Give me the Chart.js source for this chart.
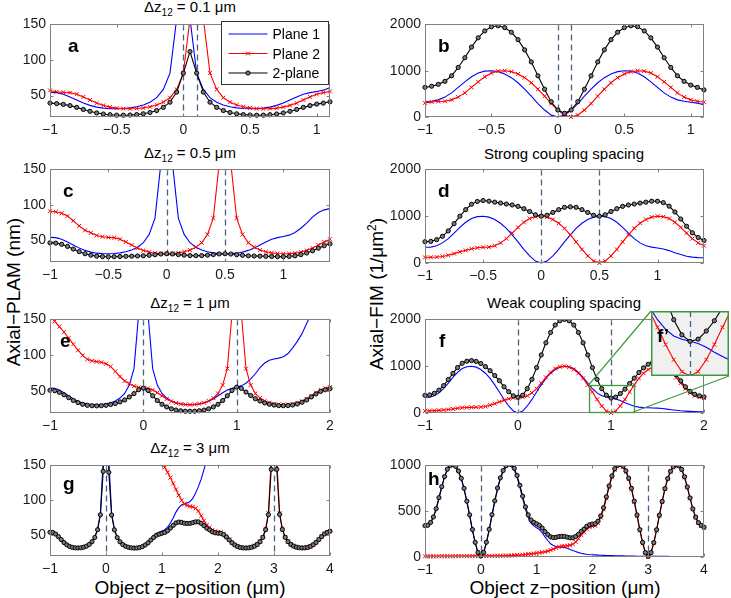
<!DOCTYPE html>
<html lang="en">
<head>
  <meta charset="UTF-8">
  <title>Axial PLAM and FIM versus object z-position</title>
  <script src="https://cdn.jsdelivr.net/npm/chart.js"></script>
  <style>
    body {
      margin: 0;
      background: #fff;
      font-family: 'Liberation Sans', Arial, Helvetica, sans-serif;
      color: #000;
    }
    #fig {
      position: relative;
      width: 731px;
      height: 598px;
      overflow: hidden;
    }
    #fig canvas { position: absolute; }
    .ttl {
      position: absolute;
      transform: translateX(-50%);
      font-size: 15px;
      line-height: 16px;
      white-space: nowrap;
    }
    .ttl sub { font-size: 10px; line-height: 0; vertical-align: -4px; }
    .xlab {
      position: absolute;
      transform: translateX(-50%);
      font-size: 19px;
      line-height: 22px;
      white-space: nowrap;
    }
    .ylab {
      position: absolute;
      transform: translate(-50%, -50%) rotate(-90deg);
      font-size: 19px;
      line-height: 22px;
      white-space: nowrap;
    }
    .ylab sup { font-size: 12px; line-height: 0; vertical-align: 7px; }
  </style>
</head>
<body>
  <div id="fig">
    <div class="ttl" style="left:190px;top:-1px">&Delta;z<sub>12</sub> = 0.1 &mu;m</div>
    <div class="ttl" style="left:190px;top:145px">&Delta;z<sub>12</sub> = 0.5 &mu;m</div>
    <div class="ttl" style="left:564px;top:146px">Strong coupling spacing</div>
    <div class="ttl" style="left:190px;top:295px">&Delta;z<sub>12</sub> = 1 &mu;m</div>
    <div class="ttl" style="left:564px;top:295px">Weak coupling spacing</div>
    <div class="ttl" style="left:190px;top:440px">&Delta;z<sub>12</sub> = 3 &mu;m</div>
    <div class="ylab" style="left:14px;top:292px">Axial&minus;PLAM (nm)</div>
    <div class="ylab" style="left:377px;top:294px">Axial&minus;FIM (1/&mu;m<sup>2</sup>)</div>
    <div class="xlab" style="left:190px;top:577px">Object z&minus;position (&mu;m)</div>
    <div class="xlab" style="left:565px;top:577px">Object z&minus;position (&mu;m)</div>
  </div>

  <script>
    // ---- sample positions (um), step 0.05 ----
    const zAll = [-1,-0.95,-0.9,-0.85,-0.8,-0.75,-0.7,-0.65,-0.6,-0.55,-0.5,-0.45,-0.4,-0.35,-0.3,-0.25,-0.2,-0.15,-0.1,-0.05,
      0,0.05,0.1,0.15,0.2,0.25,0.3,0.35,0.4,0.45,0.5,0.55,0.6,0.65,0.7,0.75,0.8,0.85,0.9,0.95,
      1,1.05,1.1,1.15,1.2,1.25,1.3,1.35,1.4,1.45,1.5,1.55,1.6,1.65,1.7,1.75,1.8,1.85,1.9,1.95,
      2,2.05,2.1,2.15,2.2,2.25,2.3,2.35,2.4,2.45,2.5,2.55,2.6,2.65,2.7,2.75,2.8,2.85,2.9,2.95,
      3,3.05,3.1,3.15,3.2,3.25,3.3,3.35,3.4,3.45,3.5,3.55,3.6,3.65,3.7,3.75,3.8,3.85,3.9,3.95,4];
    const zAB = zAll.slice(0, 43);   // -1 .. 1.1
    const zCD = zAll.slice(0, 49);   // -1 .. 1.4
    const zEF = zAll.slice(0, 61);   // -1 .. 2
    const zGH = zAll;                // -1 .. 4

    // ---- a / b : dz12 = 0.1 um ----
    const plamA_p1 = [54.6,54.2,52.0,48.2,43.9,39.5,36.3,33.9,32.4,31.8,31.6,31.9,32.8,34.3,36.8,40.8,47.1,58.7,81.6,158,
      1000,158,81.6,58.7,47.1,40.8,36.8,34.3,32.8,31.9,31.6,31.8,32.4,33.9,36.3,39.5,43.9,48.2,52.0,54.2,55.9,57.7,61.4];
    const plamA_p2 = [57.3,55.5,54.6,54.2,52.0,48.2,43.9,39.5,36.3,33.9,32.4,31.8,31.6,31.9,32.8,34.3,36.8,40.8,47.1,58.7,
      81.6,158,1000,158,81.6,58.7,47.1,40.8,36.8,34.3,32.8,31.9,31.6,31.8,32.4,33.9,36.3,39.5,43.9,48.2,52.0,54.2,55.9];
    const plamA_2p = [39.5,38.8,37.7,36.0,33.5,30.6,28.0,25.7,24.2,23.2,22.6,22.5,22.8,23.4,24.5,26.3,29.0,33.5,40.8,55.0,
      81.6,111.8,81.6,55.0,40.8,33.5,29.0,26.3,24.5,23.4,22.8,22.5,22.6,23.2,24.2,25.7,28.0,30.6,33.5,36.0,38.1,39.5,41.3];
    const fimB_p1 = [335,340,370,430,520,640,760,870,950,990,1000,980,930,850,740,600,450,290,150,40,
      0,40,150,290,450,600,740,850,930,980,1000,990,950,870,760,640,520,430,370,340,320,300,265];
    const fimB_p2 = [305,325,335,340,370,430,520,640,760,870,950,990,1000,980,930,850,740,600,450,290,
      150,40,0,40,150,290,450,600,740,850,930,980,1000,990,950,870,760,640,520,430,370,340,320];
    const fimB_2p = [640,665,705,770,890,1070,1280,1510,1710,1860,1950,1970,1930,1830,1670,1450,1190,890,600,330,
      150,80,150,330,600,890,1190,1450,1670,1830,1930,1970,1950,1860,1710,1510,1280,1070,890,770,690,640,585];

    // ---- c / d : dz12 = 0.5 um ----
    const plamC_p1 = [54.6,54.2,52.0,48.2,43.9,39.5,36.3,33.9,32.4,31.8,31.6,31.9,32.8,34.3,36.8,40.8,47.1,58.7,81.6,158,
      1000,158,81.6,58.7,47.1,40.8,36.8,34.3,32.8,31.9,31.6,31.8,32.4,33.9,36.3,39.5,43.9,48.2,52.0,54.2,
      55.9,57.7,61.4,67.4,74.5,83.0,89.4,93.2,94.9];
    const plamC_p2 = [91.3,90.5,88.4,84.5,77.8,70.7,64.5,60.9,57.3,55.5,54.6,54.2,52.0,48.2,43.9,39.5,36.3,33.9,32.4,31.8,
      31.6,31.9,32.8,34.3,36.8,40.8,47.1,58.7,81.6,158,1000,158,81.6,58.7,47.1,40.8,36.8,34.3,32.8,31.9,
      31.6,31.8,32.4,33.9,36.3,39.5,43.9,48.2,52.0];
    const plamC_2p = [46.9,46.5,44.8,41.9,38.2,34.5,31.6,29.6,28.2,27.6,27.4,27.5,27.7,28.0,28.2,28.4,28.7,29.4,30.2,31.2,
      31.6,31.3,30.4,29.6,29.0,28.9,29.0,29.6,30.4,31.3,31.6,31.2,30.2,29.4,28.7,28.4,28.2,28.0,27.7,27.5,
      27.5,27.8,28.7,30.3,32.6,35.7,39.4,42.8,45.6];
    const fimD_p1 = [335,340,370,430,520,640,760,870,950,990,1000,980,930,850,740,600,450,290,150,40,
      0,40,150,290,450,600,740,850,930,980,1000,990,950,870,760,640,520,430,370,340,
      320,300,265,220,180,145,125,115,111];
    const fimD_p2 = [120,122,128,140,165,200,240,270,305,325,335,340,370,430,520,640,760,870,950,990,
      1000,980,930,850,740,600,450,290,150,40,0,40,150,290,450,600,740,850,930,980,
      1000,990,950,870,760,640,520,430,370];
    const fimD_2p = [455,462,498,570,685,840,1000,1140,1255,1315,1335,1320,1300,1280,1260,1240,1210,1160,1100,1030,
      1000,1020,1080,1140,1190,1200,1190,1140,1080,1020,1000,1030,1100,1160,1210,1240,1260,1280,1300,1320,
      1320,1290,1215,1090,940,785,645,545,481];

    // ---- e / f : dz12 = 1 um ----
    const plamE_p1 = [54.6,54.2,52.0,48.2,43.9,39.5,36.3,33.9,32.4,31.8,31.6,31.9,32.8,34.3,36.8,40.8,47.1,58.7,81.6,158,
      1000,158,81.6,58.7,47.1,40.8,36.8,34.3,32.8,31.9,31.6,31.8,32.4,33.9,36.3,39.5,43.9,48.2,52.0,54.2,
      55.9,57.7,61.4,67.4,74.5,83.0,89.4,93.2,94.9,96.2,98.1,102.6,110.4,119.5,130.2,144.3,158,171.5,182.6,192.5,
      200];
    const plamE_p2 = [154.3,147.4,140.0,132.5,124.0,115.5,107.2,100,94.5,92.5,91.3,90.5,88.4,84.5,77.8,70.7,64.5,60.9,57.3,55.5,
      54.6,54.2,52.0,48.2,43.9,39.5,36.3,33.9,32.4,31.8,31.6,31.9,32.8,34.3,36.8,40.8,47.1,58.7,81.6,158,
      1000,158,81.6,58.7,47.1,40.8,36.8,34.3,32.8,31.9,31.6,31.8,32.4,33.9,36.3,39.5,43.9,48.2,52.0,54.2,
      55.9];
    const plamE_2p = [51.5,50.9,48.7,45.3,41.3,37.4,34.4,32.1,30.7,30.1,29.9,30.1,30.7,31.8,33.2,35.4,38.1,42.3,46.9,52.3,
      54.6,51.3,43.9,37.3,32.1,28.4,25.8,24.1,23.1,22.5,22.4,22.5,23.1,24.1,25.8,28.4,32.1,37.3,43.9,51.3,
      55.9,54.2,49.1,44.3,39.8,36.6,34.0,32.2,31.0,30.3,30.1,30.4,31.1,32.6,34.9,38.1,42.3,46.4,50.0,52.2,
      53.8];
    const fimF_p1 = [335,340,370,430,520,640,760,870,950,990,1000,980,930,850,740,600,450,290,150,40,
      0,40,150,290,450,600,740,850,930,980,1000,990,950,870,760,640,520,430,370,340,
      320,300,265,220,180,145,125,115,111,108,104,95,82,70,59,48,40,34,30,27,
      25];
    const fimF_p2 = [42,46,51,57,65,75,87,100,112,117,120,122,128,140,165,200,240,270,305,325,
      335,340,370,430,520,640,760,870,950,990,1000,980,930,850,740,600,450,290,150,40,
      0,40,150,290,450,600,740,850,930,980,1000,990,950,870,760,640,520,430,370,340,
      320];
    const fimF_2p = [377,386,421,487,585,715,847,970,1062,1107,1120,1102,1058,990,905,800,690,560,455,365,
      335,380,520,720,970,1240,1500,1720,1880,1970,2000,1970,1880,1720,1500,1240,970,720,520,380,
      320,340,415,510,630,745,865,965,1041,1088,1104,1085,1032,940,819,688,560,464,400,367,
      345];

    // ---- g / h : dz12 = 3 um ----
    const plamG_p1 = [54.6,54.2,52.0,48.2,43.9,39.5,36.3,33.9,32.4,31.8,31.6,31.9,32.8,34.3,36.8,40.8,47.1,58.7,81.6,158,
      1000,158,81.6,58.7,47.1,40.8,36.8,34.3,32.8,31.9,31.6,31.8,32.4,33.9,36.3,39.5,43.9,48.2,52.0,54.2,
      55.9,57.7,61.4,67.4,74.5,83.0,89.4,93.2,94.9,96.2,98.1,102.6,110.4,119.5,130.2,144.3,158,171.5,182.6,192.5,
      200,208.5,218,229,236,243,250,258,267,277,289,289,302,302,316,316,333,333,333,354,
      354,354,354,378,378,378,378,378,408,408,408,408,408,408,447,447,447,447,447,447,
      447];
    const plamG_p2 = [378,378,378,378,378,354,354,354,354,354,354,333,333,333,333,333,316,316,316,316,
      302,302,302,289,289,277,277,267,267,258,250,243,236,224,213,204,192,183,171,162,
      154,147,140,132.5,124,115.5,107.2,100,94.5,92.5,91.3,90.5,88.4,84.5,77.8,70.7,64.5,60.9,57.3,55.5,
      54.6,54.2,52.0,48.2,43.9,39.5,36.3,33.9,32.4,31.8,31.6,31.9,32.8,34.3,36.8,40.8,47.1,58.7,81.6,158,
      1000,158,81.6,58.7,47.1,40.8,36.8,34.3,32.8,31.9,31.6,31.8,32.4,33.9,36.3,39.5,43.9,48.2,52.0,54.2,
      55.9];
    const plamG_2p = [54.1,53.7,51.5,47.8,43.6,39.3,36.1,33.7,32.3,31.7,31.5,31.8,32.6,34.1,36.5,40.5,46.6,57.7,79.1,141.4,
      301.5,140.0,78.8,57.5,46.5,40.4,36.4,34.0,32.5,31.7,31.4,31.5,32.1,33.5,35.8,38.8,42.8,46.6,49.8,51.4,
      52.6,53.8,56.3,60.1,63.9,67.4,68.7,68.2,67.0,66.7,66.8,67.9,69.0,69.0,66.8,63.5,59.8,57.4,54.6,53.3,
      52.7,52.5,50.6,47.2,43.1,39.0,35.9,33.6,32.2,31.6,31.4,31.75,32.6,34.1,36.5,40.5,46.7,57.8,79.3,144.3,
      353.6,144.3,79.6,58.0,46.8,40.6,36.6,34.2,32.7,31.8,31.5,31.7,32.3,33.8,36.2,39.4,43.6,47.9,51.6,53.8,
      55.5];
    const fimH_p1 = [335,340,370,430,520,640,760,870,950,990,1000,980,930,850,740,600,450,290,150,40,
      0,40,150,290,450,600,740,850,930,980,1000,990,950,870,760,640,520,430,370,340,
      320,300,265,220,180,145,125,115,111,108,104,95,82,70,59,48,40,34,30,27,
      25,23,21,19,18,17,16,15,14,13,12,12,11,11,10,10,9,9,9,8,
      8,8,8,7,7,7,7,7,6,6,6,6,6,6,5,5,5,5,5,5,
      5];
    const fimH_p2 = [7,7,7,7,7,8,8,8,8,8,8,9,9,9,9,9,10,10,10,10,
      11,11,11,12,12,13,13,14,14,15,16,17,18,20,22,24,27,30,34,38,
      42,46,51,57,65,75,87,100,112,117,120,122,128,140,165,200,240,270,305,325,
      335,340,370,430,520,640,760,870,950,990,1000,980,930,850,740,600,450,290,150,40,
      0,40,150,290,450,600,740,850,930,980,1000,990,950,870,760,640,520,430,370,340,
      320];
    const fimH_2p = [342,347,377,437,527,648,768,878,958,998,1008,989,939,859,749,609,460,300,160,50,
      11,51,161,302,462,613,753,864,944,995,1016,1007,968,890,782,664,547,460,404,378,
      362,346,316,277,245,220,212,215,223,225,224,217,210,210,224,248,280,304,335,352,
      360,363,391,449,538,657,776,885,964,1003,1012,992,941,861,750,610,459,299,159,48,
      8,48,158,297,457,607,747,857,936,986,1006,996,956,876,765,645,525,435,375,345,
      325];

    // ---- axes ----
    const xTicksAC = [-1, -0.5, 0, 0.5, 1];
    const xTicksEF = [-1, 0, 1, 2];
    const xTicksGH = [-1, 0, 1, 2, 3, 4];
    const yTicksPlam = [50, 100, 150];
    const yTicksFim = [0, 1000, 2000];
    const yTicksH = [0, 500, 1000];
    const planesA = [0, 0.1];
    const planesC = [0, 0.5];
    const planesE = [0, 1];
    const planesG = [0, 3];
    const legendNames = ['Plane 1', 'Plane 2', '2-plane'];
    const zoomX = [0.76, 1.24];   // f' window
    const zoomY = [0, 600];

    const FONT = "'Liberation Sans', Arial, Helvetica, sans-serif";
    const AXIS = '#808080';
    const DASH = '#46627e';
    const DOT_R = 2.1;
    const fmt = v => (v < 0 ? '\u2212' + (-v) : String(v));
    Chart.defaults.font.family = FONT;

    // panel layout (plot area in page pixels)
    const panels = [
      { id: 'a', left: 50, top: 22, w: 280, h: 95, z: zAB, s: [plamA_p1, plamA_p2, plamA_2p], xr: [-1, 1.1], yr: [20, 150], xt: xTicksAC, yt: yTicksPlam, planes: planesA, lx: 18, ly: 28, legend: true },
      { id: 'b', left: 425, top: 22, w: 279, h: 95, z: zAB, s: [fimB_p1, fimB_p2, fimB_2p], xr: [-1, 1.1], yr: [0, 2000], xt: xTicksAC, yt: yTicksFim, planes: planesA, lx: 13, ly: 28 },
      { id: 'c', left: 50, top: 167, w: 280, h: 95, z: zCD, s: [plamC_p1, plamC_p2, plamC_2p], xr: [-1, 1.4], yr: [20, 150], xt: xTicksAC, yt: yTicksPlam, planes: planesC, lx: 13, ly: 28 },
      { id: 'd', left: 425, top: 167, w: 279, h: 96, z: zCD, s: [fimD_p1, fimD_p2, fimD_2p], xr: [-1, 1.4], yr: [0, 2000], xt: xTicksAC, yt: yTicksFim, planes: planesC, lx: 13, ly: 28 },
      { id: 'e', left: 50, top: 317, w: 280, h: 96, z: zEF, s: [plamE_p1, plamE_p2, plamE_2p], xr: [-1, 2], yr: [20, 150], xt: xTicksEF, yt: yTicksPlam, planes: planesE, lx: 10, ly: 28 },
      { id: 'f', left: 425, top: 317, w: 279, h: 96, z: zEF, s: [fimF_p1, fimF_p2, fimF_2p], xr: [-1, 2], yr: [0, 2000], xt: xTicksEF, yt: yTicksFim, planes: planesE, lx: 14, ly: 28 },
      { id: 'g', left: 50, top: 463, w: 280, h: 93, z: zGH, s: [plamG_p1, plamG_p2, plamG_2p], xr: [-1, 4], yr: [20, 150], xt: xTicksGH, yt: yTicksPlam, planes: planesG, lx: 13, ly: 25 },
      { id: 'h', left: 425, top: 463, w: 279, h: 94, z: zGH, s: [fimH_p1, fimH_p2, fimH_2p], xr: [-1, 4], yr: [0, 1000], xt: xTicksGH, yt: yTicksH, planes: planesG, lx: 3, ly: 20 }
    ];

    function series(s, clip) {
      return [
        { data: s[0], borderColor: '#0000ff', pointRadius: 0, order: 3 },
        { data: s[1], borderColor: '#ff0000', pointStyle: 'crossRot', pointRadius: 2.8, pointBorderWidth: 1,
          pointBorderColor: '#ff0000', pointBackgroundColor: '#ff0000', order: 2 },
        { data: s[2], borderColor: '#000000', pointStyle: 'circle', pointRadius: DOT_R, pointBorderWidth: 1,
          pointBorderColor: '#000000', pointBackgroundColor: '#7a7a7a', order: 1 }
      ].map(d => Object.assign({ borderWidth: 1.1, tension: 0, fill: false, clip: clip }, d));
    }

    function drawMarker(ctx, kind, x, y) {
      ctx.save();
      ctx.setLineDash([]);
      ctx.lineWidth = 1;
      if (kind === 'x') {
        ctx.strokeStyle = '#ff0000';
        ctx.beginPath();
        ctx.moveTo(x - 2, y - 2); ctx.lineTo(x + 2, y + 2);
        ctx.moveTo(x + 2, y - 2); ctx.lineTo(x - 2, y + 2);
        ctx.stroke();
      } else {
        ctx.fillStyle = '#7a7a7a';
        ctx.strokeStyle = '#000';
        ctx.beginPath(); ctx.arc(x, y, DOT_R, 0, Math.PI * 2); ctx.fill(); ctx.stroke();
      }
      ctx.restore();
    }

    function drawPlanes(chart, planes) {
      const { ctx, chartArea: a, scales: { x } } = chart;
      ctx.save();
      ctx.beginPath(); ctx.rect(a.left, a.top, a.width, a.height); ctx.clip();
      ctx.strokeStyle = DASH; ctx.lineWidth = 1.3; ctx.setLineDash([6, 4]);
      planes.forEach(v => {
        const px = Math.round(x.getPixelForValue(v)) + 0.5;
        ctx.beginPath(); ctx.moveTo(px, a.top); ctx.lineTo(px, a.bottom); ctx.stroke();
      });
      ctx.restore();
    }

    function framePlugin(p) {
      return {
        id: 'frame',
        beforeDatasetsDraw(chart) { drawPlanes(chart, p.planes); },
        afterDraw(chart) {
          const { ctx, chartArea: a, scales: { x, y } } = chart;
          const L = Math.round(a.left) + 0.5, R = Math.round(a.right) - 0.5;
          const T = Math.round(a.top) + 0.5, B = Math.round(a.bottom) - 0.5;
          ctx.save();
          ctx.strokeStyle = AXIS; ctx.lineWidth = 1; ctx.setLineDash([]);
          ctx.strokeRect(L, T, R - L, B - T);
          // inward tick marks on all four sides
          ctx.beginPath();
          p.xt.forEach(v => {
            const px = Math.round(x.getPixelForValue(v)) + 0.5;
            ctx.moveTo(px, B); ctx.lineTo(px, B - 3);
            ctx.moveTo(px, T); ctx.lineTo(px, T + 3);
          });
          p.yt.forEach(v => {
            const py = Math.round(y.getPixelForValue(v)) + 0.5;
            ctx.moveTo(L, py); ctx.lineTo(L + 3, py);
            ctx.moveTo(R, py); ctx.lineTo(R - 3, py);
          });
          ctx.stroke();
          // panel letter
          ctx.fillStyle = '#000';
          ctx.font = 'bold 19px ' + FONT;
          ctx.textAlign = 'left';
          ctx.textBaseline = 'alphabetic';
          ctx.fillText(p.id, a.left + p.lx, a.top + p.ly);
          if (p.legend) {
            const bw = 107, bh = 63;
            const bx = Math.round(a.right) - 2 - bw + 0.5, by = Math.round(a.top) - 3 + 0.5;
            ctx.fillStyle = '#fff'; ctx.fillRect(bx, by, bw, bh);
            ctx.strokeStyle = '#333'; ctx.strokeRect(bx, by, bw, bh);
            const colors = ['#0000ff', '#ff0000', '#000000'];
            const marks = [null, 'x', 'o'];
            ctx.font = '14px ' + FONT;
            legendNames.forEach((name, i) => {
              const cy = by + 12.5 + i * 19.5;
              ctx.strokeStyle = colors[i]; ctx.lineWidth = 1.1;
              ctx.beginPath(); ctx.moveTo(bx + 7, cy); ctx.lineTo(bx + 46, cy); ctx.stroke();
              if (marks[i]) drawMarker(ctx, marks[i], bx + 26.5, cy);
              ctx.fillStyle = '#000';
              ctx.fillText(name, bx + 51, cy + 5);
            });
          }
          ctx.restore();
        }
      };
    }

    const fig = document.getElementById('fig');
    const charts = {};
    const padL = 45, padR = 15, padT = 10, xH = 22;

    panels.forEach(p => {
      const cv = document.createElement('canvas');
      cv.width = p.w + padL + padR;
      cv.height = p.h + padT + xH;
      cv.style.left = (p.left - padL) + 'px';
      cv.style.top = (p.top - padT) + 'px';
      fig.appendChild(cv);
      charts[p.id] = new Chart(cv, {
        type: 'line',
        data: { labels: p.z, datasets: series(p.s, { left: 5, right: 5, top: 0, bottom: 5 }) },
        options: {
          responsive: false,
          animation: false,
          devicePixelRatio: 1,
          layout: { autoPadding: false, padding: { left: 0, right: padR, top: padT, bottom: 0 } },
          plugins: { legend: { display: false }, tooltip: { enabled: false } },
          scales: {
            x: {
              type: 'linear', min: p.xr[0], max: p.xr[1],
              grid: { display: false, drawTicks: false }, border: { display: false },
              ticks: { padding: 5, color: '#1a1a1a', font: { size: 14 }, maxRotation: 0, autoSkip: false, callback: fmt },
              afterBuildTicks: s => { s.ticks = p.xt.map(v => ({ value: v })); },
              afterFit: s => { s.height = xH; }
            },
            y: {
              type: 'linear', min: p.yr[0], max: p.yr[1],
              grid: { display: false, drawTicks: false }, border: { display: false },
              ticks: { padding: 4, color: '#1a1a1a', font: { size: 14 }, callback: fmt },
              afterBuildTicks: s => { s.ticks = p.yt.map(v => ({ value: v })); },
              afterFit: s => { s.width = padL; }
            }
          }
        },
        plugins: [framePlugin(p)]
      });
    });

    // ---- zoom box on f and connectors to the inset ----
    const overlay = document.createElement('canvas');
    overlay.width = 731; overlay.height = 598;
    overlay.style.left = '0px'; overlay.style.top = '0px';
    fig.appendChild(overlay);

    const insetCv = document.createElement('canvas');
    insetCv.width = 78; insetCv.height = 65;
    insetCv.style.left = '651px'; insetCv.style.top = '311px';
    fig.appendChild(insetCv);

    new Chart(insetCv, {
      type: 'line',
      data: { labels: zEF, datasets: series([fimF_p1, fimF_p2, fimF_2p], 0) },
      options: {
        responsive: false,
        animation: false,
        devicePixelRatio: 1,
        layout: { autoPadding: false, padding: 0 },
        plugins: { legend: { display: false }, tooltip: { enabled: false } },
        scales: {
          x: { type: 'linear', display: false, min: zoomX[0], max: zoomX[1] },
          y: { type: 'linear', display: false, min: zoomY[0], max: zoomY[1] }
        }
      },
      plugins: [{
        id: 'insetFrame',
        beforeDraw(chart) {
          const { ctx, chartArea: a } = chart;
          ctx.save(); ctx.fillStyle = '#f0f0f0'; ctx.fillRect(a.left, a.top, a.width, a.height); ctx.restore();
        },
        beforeDatasetsDraw(chart) { drawPlanes(chart, planesE); },
        afterDraw(chart) {
          const { ctx, chartArea: a } = chart;
          ctx.save();
          ctx.setLineDash([]);
          ctx.strokeStyle = '#3f9a3f'; ctx.lineWidth = 1.5;
          ctx.strokeRect(a.left + 0.75, a.top + 0.75, a.width - 1.5, a.height - 1.5);
          ctx.fillStyle = '#000';
          ctx.font = 'bold 19px ' + FONT;
          ctx.textAlign = 'left';
          ctx.textBaseline = 'alphabetic';
          ctx.fillText('f\u2019', a.left + 6, a.top + 31);
          ctx.restore();
        }
      }]
    });

    (function drawZoomLinks() {
      const cf = charts.f;
      const ox = cf.canvas.offsetLeft, oy = cf.canvas.offsetTop;
      const rx0 = ox + cf.scales.x.getPixelForValue(zoomX[0]);
      const rx1 = ox + cf.scales.x.getPixelForValue(zoomX[1]);
      const ry0 = oy + cf.scales.y.getPixelForValue(zoomY[1]);
      const ry1 = oy + cf.scales.y.getPixelForValue(zoomY[0]);
      const ix0 = insetCv.offsetLeft, iy0 = insetCv.offsetTop;
      const ix1 = ix0 + insetCv.width, iy1 = iy0 + insetCv.height;
      const ctx = overlay.getContext('2d');
      ctx.strokeStyle = '#3f9a3f'; ctx.lineWidth = 1.3;
      ctx.strokeRect(Math.round(rx0) + 0.5, Math.round(ry0) + 0.5, Math.round(rx1 - rx0), Math.round(ry1 - ry0) - 1);
      ctx.beginPath();
      ctx.moveTo(rx0, ry0); ctx.lineTo(ix0, iy0);
      ctx.moveTo(rx1, ry1 - 1); ctx.lineTo(ix1, iy1);
      ctx.stroke();
    })();
  </script>
</body>
</html>
